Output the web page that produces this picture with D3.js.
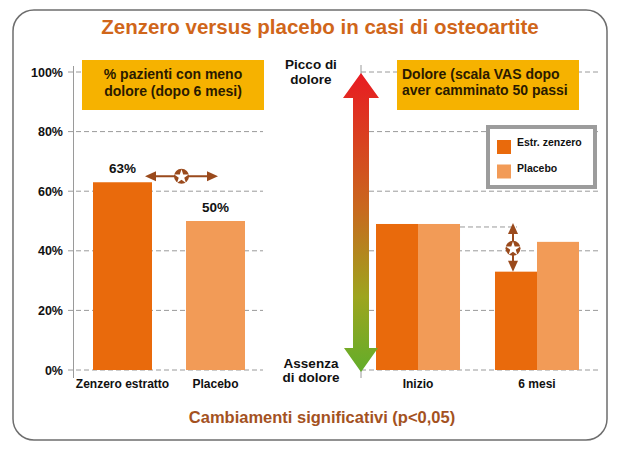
<!DOCTYPE html>
<html><head><meta charset="utf-8">
<script src="https://cdn.jsdelivr.net/npm/d3@7"></script>
<style>
html,body{margin:0;padding:0;background:#fff;}
svg{display:block;font-family:"Liberation Sans",Arial,Helvetica,sans-serif;}
</style></head>
<body>
<svg id="c" width="627" height="453"></svg>
<script>
// ---- data ----
const title = "Zenzero versus placebo in casi di osteoartite";
const footnote = "Cambiamenti significativi (p<0,05)";
const leftCategories = ["Zenzero estratto", "Placebo"];
const leftValues = [63, 50];
const leftTicks = [0, 20, 40, 60, 80, 100];
const leftBoxText = ["% pazienti con meno", "dolore (dopo 6 mesi)"];
const rightCategories = ["Inizio", "6 mesi"];
const seriesNames = ["Estr. zenzero", "Placebo"];
const zenzeroValues = [49, 33];
const placeboValues = [49, 43];
const rightBoxText = ["Dolore (scala VAS dopo", "aver camminato 50 passi"];
const topLabel = ["Picco di", "dolore"];
const bottomLabel = ["Assenza", "di dolore"];

const darkOrange = "#e96a0c", lightOrange = "#f29b57", gold = "#f6b200", brown = "#9a4a1c";

const svg = d3.select("#c");
const defs = svg.append("defs");

// frame
svg.append("rect").attr("x", 13).attr("y", 10).attr("width", 594).attr("height", 430)
  .attr("rx", 21).attr("fill", "#fff").attr("stroke", "#6e6e6e").attr("stroke-width", 1.5);

svg.append("text").attr("x", 320).attr("y", 34).attr("text-anchor", "middle")
  .attr("font-size", 20.5).attr("font-weight", "bold").attr("fill", "#d0661a").text(title);

svg.append("text").attr("x", 322).attr("y", 423).attr("text-anchor", "middle")
  .attr("font-size", 16.5).attr("font-weight", "bold").attr("fill", "#a4521f").text(footnote);

// ---- left chart ----
const y = d3.scaleLinear().domain([0, 100]).range([370, 72]);
const xL = d3.scaleBand().domain(leftCategories).range([93, 245]).paddingInner(0.3656).paddingOuter(0);

const gL = svg.append("g");
gL.selectAll("line.grid").data(leftTicks).join("line")
  .attr("x1", 68).attr("x2", 263).attr("y1", d => y(d)).attr("y2", d => y(d))
  .attr("stroke", "#9a9a9a").attr("stroke-dasharray", "5,3");
gL.append("line").attr("x1", 73.5).attr("x2", 73.5).attr("y1", 66).attr("y2", 378).attr("stroke", "#9a9a9a");
gL.selectAll("text.tick").data(leftTicks).join("text")
  .attr("x", 63).attr("y", d => y(d) + 4.5).attr("text-anchor", "end")
  .attr("font-size", 12.5).attr("font-weight", "bold").attr("fill", "#111").text(d => d + "%");

gL.selectAll("rect.bar").data(leftValues).join("rect")
  .attr("x", (d, i) => xL(leftCategories[i])).attr("width", xL.bandwidth())
  .attr("y", d => y(d)).attr("height", d => y(0) - y(d))
  .attr("fill", (d, i) => i === 0 ? darkOrange : lightOrange);
gL.selectAll("text.val").data(leftValues).join("text")
  .attr("x", (d, i) => xL(leftCategories[i]) + xL.bandwidth() / 2).attr("y", d => y(d) - 9)
  .attr("text-anchor", "middle").attr("font-size", 13.5).attr("font-weight", "bold").attr("fill", "#111")
  .text(d => d + "%");
gL.selectAll("text.cat").data(leftCategories).join("text")
  .attr("x", d => xL(d) + xL.bandwidth() / 2).attr("y", 388).attr("text-anchor", "middle")
  .attr("font-size", 12).attr("font-weight", "bold").attr("fill", "#111").text(d => d);

// left yellow box
gL.append("rect").attr("x", 82).attr("y", 60).attr("width", 182).attr("height", 50).attr("fill", gold);
gL.selectAll("text.box").data(leftBoxText).join("text")
  .attr("x", 173).attr("y", (d, i) => 79 + i * 17).attr("text-anchor", "middle")
  .attr("font-size", 14).attr("font-weight", "bold").attr("fill", "#2a1a00").text(d => d);

// significance marker helper
function sigMarker(cx, cy) {
  const g = svg.append("g");
  g.append("circle").attr("cx", cx).attr("cy", cy).attr("r", 7.5).attr("fill", brown);
  g.append("path").attr("d", d3.symbol(d3.symbolStar, 65)()).attr("transform", `translate(${cx},${cy + 0.5})`)
    .attr("fill", "#fff");
}
function arrowHead(tx, ty, dir) { // dir: angle in degrees (0 = pointing right)
  svg.append("path").attr("d", "M0,0 L-11,-5 L-11,5 Z").attr("fill", brown)
    .attr("transform", `translate(${tx},${ty}) rotate(${dir})`);
}
// horizontal significance between left bars
{
  const cy = y(leftValues[0]) - 6;
  const x1 = xL(leftCategories[0]) + xL.bandwidth() - 7, x2 = xL(leftCategories[1]) + 32;
  const cx = (x1 + x2) / 2;
  svg.append("line").attr("x1", x1 + 5).attr("x2", x2 - 5).attr("y1", cy).attr("y2", cy).attr("stroke", brown).attr("stroke-width", 2);
  arrowHead(x1, cy, 180); arrowHead(x2, cy, 0);
  sigMarker(cx, cy);
}

// ---- right chart ----
const xR = d3.scaleBand().domain(rightCategories).range([376, 579]).paddingInner(0.294).paddingOuter(0);
const xS = d3.scaleBand().domain(seriesNames).range([0, xR.bandwidth()]);
const gR = svg.append("g");
gR.selectAll("line.grid").data(leftTicks).join("line")
  .attr("x1", 361).attr("x2", 598).attr("y1", d => y(d)).attr("y2", d => y(d))
  .attr("stroke", "#9a9a9a").attr("stroke-dasharray", "5,3");
// reference line at initial level
gR.append("line").attr("x1", xR(rightCategories[0]) + xR.bandwidth()).attr("x2", xR(rightCategories[1]) + xS.bandwidth() - 20)
  .attr("y1", y(zenzeroValues[0]) + 3).attr("y2", y(zenzeroValues[0]) + 3)
  .attr("stroke", "#9a9a9a").attr("stroke-dasharray", "5,3");
gR.append("line").attr("x1", 361).attr("x2", 361).attr("y1", 65).attr("y2", 378).attr("stroke", "#9a9a9a");

const rows = rightCategories.map((c, i) => ({ c, vals: [zenzeroValues[i], placeboValues[i]] }));
gR.selectAll("g.grp").data(rows).join("g").attr("transform", d => `translate(${xR(d.c)},0)`)
  .selectAll("rect").data(d => d.vals).join("rect")
  .attr("x", (d, i) => xS(seriesNames[i])).attr("width", xS.bandwidth())
  .attr("y", d => y(d)).attr("height", d => y(0) - y(d))
  .attr("fill", (d, i) => i === 0 ? darkOrange : lightOrange);
gR.selectAll("text.cat").data(rightCategories).join("text")
  .attr("x", d => xR(d) + xR.bandwidth() / 2).attr("y", 388).attr("text-anchor", "middle")
  .attr("font-size", 12).attr("font-weight", "bold").attr("fill", "#111").text(d => d);

// vertical significance at 6 mesi
{
  const cx = xR(rightCategories[1]) + xS.bandwidth() - 24;
  const yTop = y(zenzeroValues[0]) - 1, yBot = y(zenzeroValues[1]);
  const cy = (yTop + yBot) / 2 + 1;
  svg.append("line").attr("x1", cx).attr("x2", cx).attr("y1", yTop + 5).attr("y2", yBot - 5).attr("stroke", brown).attr("stroke-width", 2);
  arrowHead(cx, yTop, -90); arrowHead(cx, yBot, 90);
  sigMarker(cx, cy);
}

// gradient arrow
const grad = defs.append("linearGradient").attr("id", "ga").attr("x1", 0).attr("y1", 0).attr("x2", 0).attr("y2", 1);
grad.append("stop").attr("offset", "0%").attr("stop-color", "#e81b22");
grad.append("stop").attr("offset", "45%").attr("stop-color", "#c9681e");
grad.append("stop").attr("offset", "75%").attr("stop-color", "#9da51f");
grad.append("stop").attr("offset", "100%").attr("stop-color", "#62ad2a");
{
  const cx = 361, top = y(100) + 1, bot = y(0) + 2;
  const pts = [[cx, top], [cx + 18, top + 25], [cx + 8, top + 25], [cx + 8, bot - 24], [cx + 17, bot - 24], [cx, bot],
    [cx - 17, bot - 24], [cx - 8, bot - 24], [cx - 8, top + 25], [cx - 18, top + 25]];
  svg.append("path").attr("d", d3.line()(pts) + "Z").attr("fill", "url(#ga)");
}
svg.selectAll("text.top").data(topLabel).join("text")
  .attr("x", 311).attr("y", (d, i) => 69 + i * 15).attr("text-anchor", "middle")
  .attr("font-size", 13.5).attr("font-weight", "bold").attr("fill", "#111").text(d => d);
svg.selectAll("text.bot").data(bottomLabel).join("text")
  .attr("x", 311).attr("y", (d, i) => 368 + i * 14).attr("text-anchor", "middle")
  .attr("font-size", 13.5).attr("font-weight", "bold").attr("fill", "#111").text(d => d);

// right yellow box
gR.append("rect").attr("x", 397).attr("y", 60).attr("width", 182).attr("height", 50).attr("fill", gold);
gR.selectAll("text.box").data(rightBoxText).join("text")
  .attr("x", 402).attr("y", (d, i) => 79 + i * 16).attr("text-anchor", "start")
  .attr("font-size", 14).attr("font-weight", "bold").attr("fill", "#2a1a00").text(d => d);

// legend
const lg = svg.append("g");
lg.append("rect").attr("x", 488).attr("y", 127).attr("width", 107).attr("height", 60)
  .attr("fill", "#fff").attr("stroke", "#9c9c9c").attr("stroke-width", 4);
lg.selectAll("rect.sw").data(seriesNames).join("rect")
  .attr("x", 497).attr("y", (d, i) => 140 + i * 24.5).attr("width", 14).attr("height", 14)
  .attr("fill", (d, i) => i === 0 ? darkOrange : lightOrange);
lg.selectAll("text").data(seriesNames).join("text")
  .attr("x", 517).attr("y", (d, i) => 146 + i * 26).attr("font-size", 10.5).attr("font-weight", "bold")
  .attr("fill", "#111").text(d => d);
</script>
</body></html>
